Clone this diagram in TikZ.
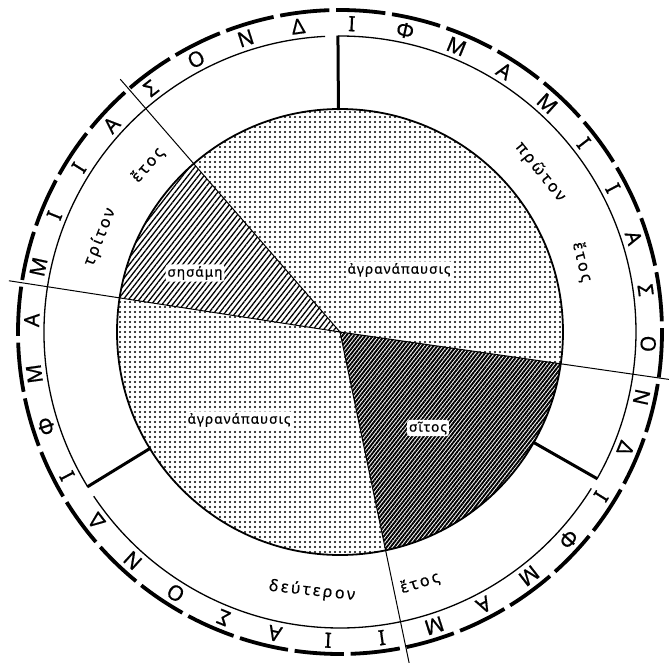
\documentclass[tikz,border=0pt]{standalone}
\usepackage{fontspec}
\setmainfont{Noto Sans}[FakeBold=0.6]
\usetikzlibrary{patterns.meta,calc}
\begin{document}
\begin{tikzpicture}[x=1pt,y=1pt,
  pieedge/.style={line width=1.8pt},
  midring/.style={line width=1.3pt},
  divider/.style={line width=3pt},
  radial/.style={line width=1pt},
  outerdash/.style={line width=3.8pt},
  lbl/.style={fill=white, rounded corners=2.5pt, inner sep=1.8pt, font=\fontsize{13.5}{13.5}\selectfont\bfseries\addfontfeatures{LetterSpace=8}},
  yr/.style={inner sep=0pt, font=\fontsize{16}{16}\selectfont\bfseries\addfontfeatures{LetterSpace=16}},
  ringletter/.style={inner sep=0pt, font=\fontsize{21}{21}\selectfont\bfseries},
  dotfill/.style={pattern={Dots[distance=5pt,radius=1.1pt]}},
  hatchfill/.style={pattern={Lines[angle=52,distance=4.2pt,line width=1.3pt]}},
  densefill/.style={pattern={Lines[angle=52,distance=3pt,line width=1.9pt]}},
]
\useasboundingbox (-340,-330) rectangle (329,332);
\coordinate (O) at (0,0);
% sectors
\fill[dotfill] (O) -- (-8.2:223) arc[start angle=-8.2,end angle=131,radius=223] -- cycle;
\fill[hatchfill] (O) -- (131:223) arc[start angle=131,end angle=171.2,radius=223] -- cycle;
\fill[dotfill] (O) -- (171.2:223) arc[start angle=171.2,end angle=281.8,radius=223] -- cycle;
\fill[densefill] (O) -- (281.8:223) arc[start angle=281.8,end angle=351.8,radius=223] -- cycle;
\draw[pieedge] (O) circle[radius=223];
% radial lines
\coordinate (ul) at (131:335);
\coordinate (lf) at (171.2:335);
\coordinate (rt) at (351.8:335);
\coordinate (bt) at (281.8:338);
\draw[radial] (O) -- (ul);
\draw[radial] (O) -- (lf);
\draw[radial] (O) -- (rt);
\draw[radial] (O) -- (bt);
% middle ring with small breaks beside the dividers
\draw[midring] (90.4:296) arc[start angle=90.4,end angle=-29.7,radius=296];
\draw[midring] (-31.9:296) arc[start angle=-31.9,end angle=-146.3,radius=296];
\draw[midring] (211.5:296) arc[start angle=211.5,end angle=92.9,radius=296];
% dividers
\foreach \a in {90.4,211.5,330.3}{
  \draw[divider] (\a:222) -- (\a:296.5);
}
% outer dashed ring
\foreach \i in {0,...,35}{
  \draw[outerdash] ({81.9+10*\i}:322) arc[start angle={81.9+10*\i},end angle={90.7+10*\i},radius=322];
}
% ring letters
\foreach \l [count=\i from 0] in {Ι,Φ,Μ,Α,Μ,Ι,Ι,Α,Σ,Ο,Ν,Δ,Ι,Φ,Μ,Α,Μ,Ι,Ι,Α,Σ,Ο,Ν,Δ,Ι,Φ,Μ,Α,Μ,Ι,Ι,Α,Σ,Ο,Ν,Δ}{
  \node[ringletter, rotate={87.8-10*\i-90}] (L\i) at ({87.8-10*\i}:308.5) {\l};
}
% year labels
\node[yr, rotate=-51.3] (y1a) at (200,160) {πρῶτον};
\node[yr, rotate=-76] (y1b) at (242,70) {ἔτος};
\node[yr, rotate=-6.2] (y2a) at (-28,-259) {δεύτερον};
\node[yr, rotate=17.7] (y2b) at (80,-251) {ἔτος};
\node[yr, rotate=68.4] (y3a) at (-240,95) {τρίτον};
\node[yr, rotate=49] (y3b) at (-192,167) {ἔτος};
% sector labels
\node[lbl] (s1) at (59,62) {ἀγρανάπαυσις};
\node[lbl] (s2) at (-145,59) {σησάμη};
\node[lbl] (s3) at (-101,-88) {ἀγρανάπαυσις};
\node[lbl] (s4) at (88,-96) {σῖτος};
\end{tikzpicture}
\end{document}
